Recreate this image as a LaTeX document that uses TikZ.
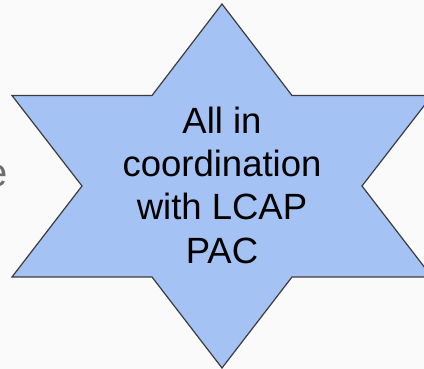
\documentclass[tikz,border=0pt]{standalone}
\usepackage{fontspec}
\setmainfont{Liberation Sans}
\definecolor{pagebg}{RGB}{250,250,250}
\definecolor{starfill}{RGB}{164,194,244}
\definecolor{starline}{RGB}{60,60,60}
\definecolor{sidegray}{RGB}{110,110,110}
\tikzset{
  starshape/.style={fill=starfill, draw=starline, line width=1.2pt, line join=miter},
  startext/.style={align=center, inner sep=0pt, text=black,
    font=\fontsize{36.5}{43.3}\selectfont},
  sidetext/.style={inner sep=0pt, text=sidegray,
    font=\fontsize{40}{48}\selectfont}
}
\begin{document}
\begin{tikzpicture}[x=1pt, y=-1pt]
  % canvas
  \useasboundingbox (0,0) rectangle (424,369);
  \fill[pagebg] (0,0) rectangle (424,369);
  \clip (0,0) rectangle (424,369);

  % text running in from the left edge
  \node[sidetext, anchor=base east] (side) at (8,187) {e};

  % six-pointed star
  \coordinate (c) at (222,186);
  \draw[starshape]
    (222,4) -- (292,95.5) -- (432,95.5) -- (362,186) -- (432,277)
    -- (292,277) -- (222,368) -- (152,277) -- (12,277) -- (82,186)
    -- (12,95.5) -- (152,95.5) -- cycle;

  % label inside the star (base anchor sits on the last line)
  \node[startext, anchor=base] (label) at (222,263)
    {All in\\coordination\\with LCAP\\PAC};
\end{tikzpicture}
\end{document}
